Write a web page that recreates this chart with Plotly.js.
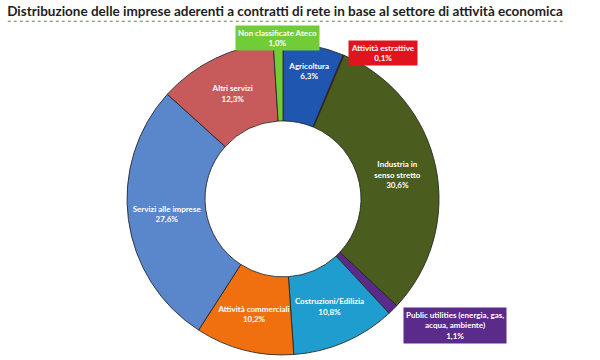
<!DOCTYPE html>
<html>
<head>
<meta charset="utf-8">
<script src="https://cdn.plot.ly/plotly-3.0.1.min.js"></script>
<style>html,body{margin:0;padding:0;background:#fff;}#chart{width:600px;height:360px;}</style>
</head>
<body>
<div id="chart"></div>
<script>
// Data (clockwise from 12 o'clock)
var categories = [
  "Agricoltura",
  "Attività estrattive",
  "Industria in<br>senso stretto",
  "Public utilities (energia, gas,<br>acqua, ambiente)",
  "Costruzioni/Edilizia",
  "Attività commerciali",
  "Servizi alle imprese",
  "Altri servizi",
  "Non classificate Ateco"
];
var shares = [6.3, 0.1, 30.6, 1.1, 10.8, 10.2, 27.6, 12.3, 1.0];
var sliceColors = ["#1f56b0", "#e0141c", "#4b5d1e", "#5b2b8c", "#1f9dcf", "#f0700f", "#5a86cc", "#c75b5b", "#72cc38"];
var outsideIdx = [8, 1, 3]; // small slices labelled with boxes
var titleText = "Distribuzione delle imprese aderenti a contratti di rete in base al settore di attività economica";

function fmt(v) { return v.toFixed(1).replace(".", ",") + "%"; }
var texts = categories.map(function (c, i) { return c + "<br>" + fmt(shares[i]); });
var textpos = categories.map(function (c, i) { return outsideIdx.indexOf(i) >= 0 ? "none" : "inside"; });

var FONT = "Lato, 'Open Sans', sans-serif";

var trace = {
  type: "pie",
  values: shares,
  labels: categories.map(function (c) { return c.replace("<br>", " "); }),
  text: texts,
  texttemplate: "<b>%{text}</b>",
  textposition: textpos,
  insidetextorientation: "horizontal",
  insidetextfont: {family: FONT, size: 8, color: "#ffffff"},
  hole: 0.5,
  sort: false,
  direction: "clockwise",
  rotation: 0,
  marker: {colors: sliceColors, line: {color: "rgba(35,35,35,0.85)", width: 1}},
  domain: {x: [0.2117, 0.7317], y: [0.014, 0.881]},
  showlegend: false,
  hoverinfo: "label+percent"
};

var boxPos = {
  8: {x: 0.463, y: 0.894},
  1: {x: 0.638, y: 0.853},
  3: {x: 0.758, y: 0.097}
};
var annotations = outsideIdx.map(function (i) {
  return {
    xref: "paper", yref: "paper", x: boxPos[i].x, y: boxPos[i].y,
    xanchor: "center", yanchor: "middle", showarrow: false,
    text: "<b>" + texts[i] + "</b>",
    font: {family: FONT, size: 8, color: "#ffffff"},
    bgcolor: sliceColors[i], borderpad: 2, align: "center"
  };
});

var layout = {
  width: 600, height: 360,
  margin: {l: 0, r: 0, t: 0, b: 0},
  paper_bgcolor: "#ffffff",
  title: {
    text: "<b>" + titleText + "</b>",
    font: {family: FONT, size: 13.5, color: "#1e1e1e"},
    x: 0.012, xanchor: "left", y: 0.968, yanchor: "middle"
  },
  annotations: annotations,
  shapes: [{
    type: "line", xref: "paper", yref: "paper",
    x0: 0.013, x1: 0.942, y0: 0.941, y1: 0.941,
    line: {color: "#5f8a3a", width: 1, dash: "dot"}
  }]
};

Plotly.newPlot("chart", [trace], layout, {displayModeBar: false, staticPlot: true});
</script>
</body>
</html>
